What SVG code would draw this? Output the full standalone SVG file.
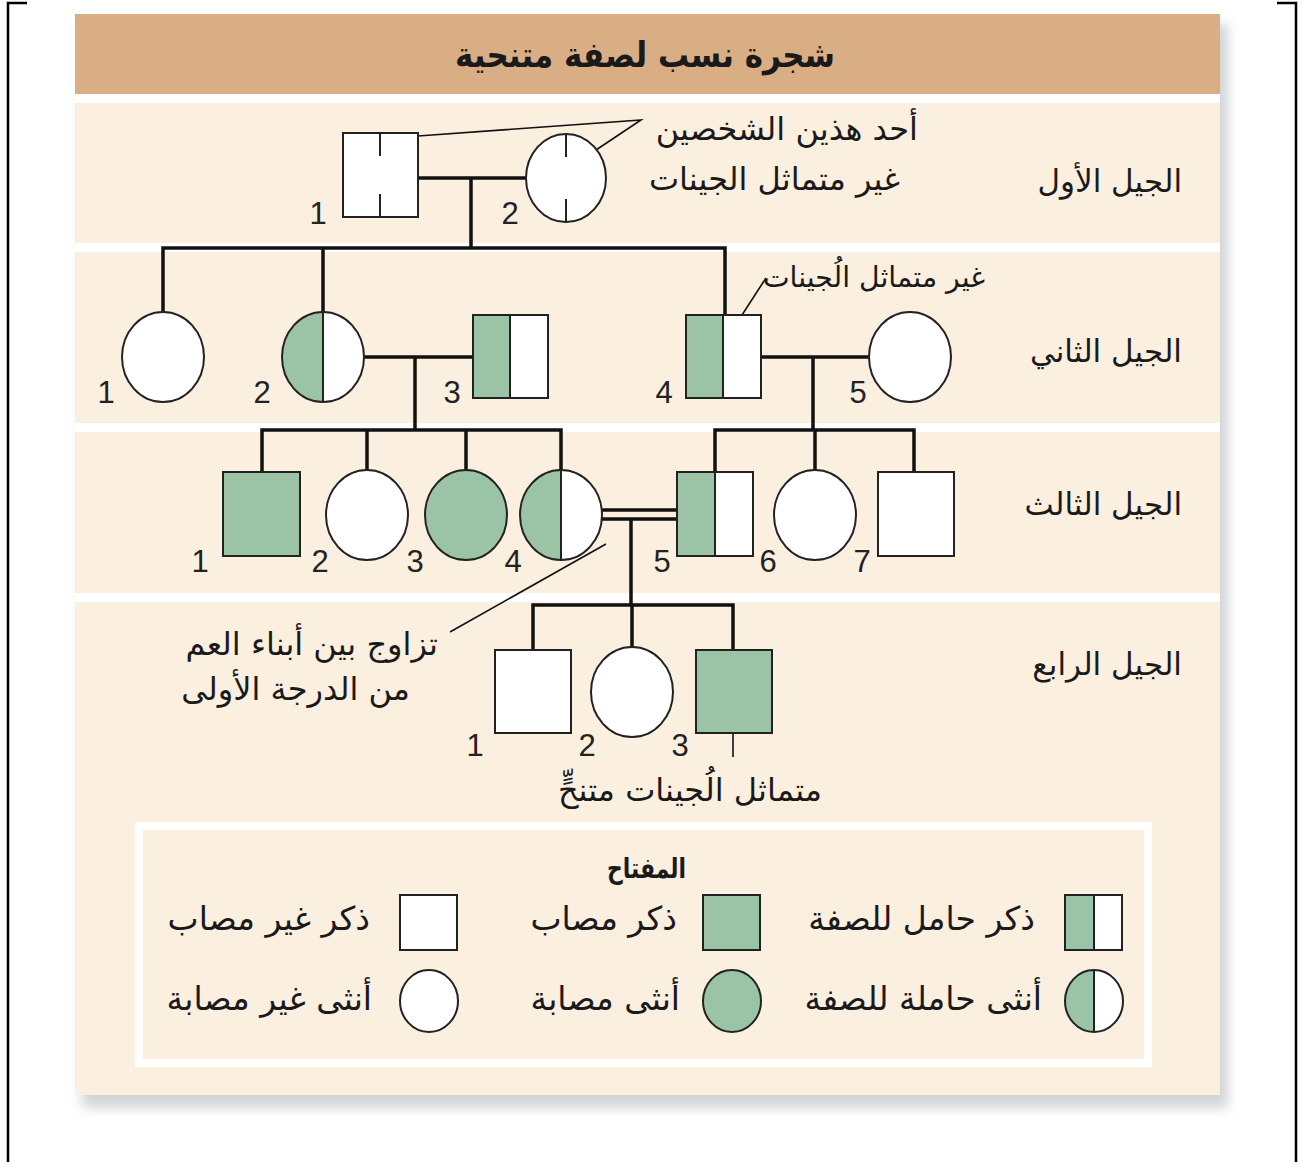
<svg xmlns="http://www.w3.org/2000/svg" width="1304" height="1162" viewBox="0 0 1304 1162">
<style>
.sh{stroke:#222;stroke-width:2}
.w{fill:#fff}
.g{fill:#9bc3a5}
.ln{stroke:#111;stroke-width:3.5;fill:none}
.thin{stroke:#111;stroke-width:1.6;fill:none}
.num{font-family:"Liberation Sans",Arial,sans-serif;font-size:31px;fill:#222}
.ar{font-family:"DejaVu Sans",sans-serif;font-size:32px;fill:#1a1a1a}
.key{font-size:33px}
.gen{font-family:"DejaVu Sans",sans-serif;font-size:31px;fill:#1a1a1a}
.bold{font-weight:bold}
</style>
<defs>
<filter id="blur" x="-5%" y="-5%" width="110%" height="110%"><feGaussianBlur stdDeviation="6"/></filter>
</defs>
<rect width="1304" height="1162" fill="#fff"/>
<g id="page-border" stroke="#000" stroke-width="2.5" fill="none">
<path d="M8,1162 V3 H27"/>
<path d="M1277,3 H1296 V1162"/>
</g>
<rect x="82" y="24" width="1146" height="1084" fill="#9aa0a8" opacity="0.45" filter="url(#blur)"/>
<g id="panel">
<rect x="75" y="14" width="1145" height="1081" fill="#fff"/>
<rect x="75" y="14" width="1145" height="80" fill="#d9ae85"/>
<rect x="75" y="103" width="1145" height="140" fill="#fbefdf"/>
<rect x="75" y="252" width="1145" height="171" fill="#fbefdf"/>
<rect x="75" y="432" width="1145" height="161" fill="#fbefdf"/>
<rect x="75" y="602" width="1145" height="493" fill="#fbefdf"/>
<text x="455" y="67" class="ar bold" style="font-size:35px" textLength="380" lengthAdjust="spacingAndGlyphs">شجرة نسب لصفة متنحية</text>
</g>
<g id="generation-labels">
<text x="1182" y="192" text-anchor="end" class="gen">الجيل الأول</text>
<text x="1182" y="362" text-anchor="end" class="gen">الجيل الثاني</text>
<text x="1182" y="515" text-anchor="end" class="gen">الجيل الثالث</text>
<text x="1182" y="675" text-anchor="end" class="gen">الجيل الرابع</text>
</g>
<g id="connectors">
<path class="ln" d="M418,178 H526"/>
<path class="ln" d="M471,178 V248"/>
<path class="ln" d="M163,312 V248 H725 V315"/>
<path class="ln" d="M323,248 V312"/>
<path class="ln" d="M364,357 H473"/>
<path class="ln" d="M415,357 V430"/>
<path class="ln" d="M761,357 H869"/>
<path class="ln" d="M813,357 V430"/>
<path class="ln" d="M262,472 V430 H561 V470"/>
<path class="ln" d="M367,430 V470"/>
<path class="ln" d="M466,430 V470"/>
<path class="ln" d="M715,472 V430 H914 V472"/>
<path class="ln" d="M815,430 V470"/>
<path class="ln" d="M602,510 H677"/>
<path class="ln" d="M602,519 H677"/>
<path class="ln" d="M631,519 V605"/>
<path class="ln" d="M533,650 V605 H733 V650"/>
<path class="ln" d="M632,605 V647"/>
<path class="thin" d="M418,136 L641,120 L596,150"/>
<path class="thin" d="M742,315 L766,278"/>
<path class="thin" d="M606,544 L450,632"/>
<path class="thin" d="M733,705 V757"/>
</g>
<g id="I-1">
<rect x="343" y="133" width="75" height="84" class="w sh"/>
<path d="M380,133 V156 M380,194 V217" class="sh"/>
<text x="318" y="224" text-anchor="middle" class="num">1</text>
</g>
<g id="I-2">
<ellipse cx="566" cy="178" rx="40" ry="44" class="w sh"/>
<path d="M566,134 V157 M566,199 V222" class="sh"/>
<text x="510" y="224" text-anchor="middle" class="num">2</text>
</g>
<g id="I-note">
<text x="918" y="140" text-anchor="end" class="ar">أحد هذين الشخصين</text>
<text x="900" y="190" text-anchor="end" class="ar">غير متماثل الجينات</text>
</g>
<g id="II-1">
<ellipse cx="163" cy="357" rx="41" ry="45" class="w sh"/>
<text x="106" y="403" text-anchor="middle" class="num">1</text>
</g>
<g id="II-2">
<ellipse cx="323" cy="357" rx="41" ry="45" class="w"/>
<path d="M323,312 A41,45 0 0 0 323,402 Z" class="g"/>
<ellipse cx="323" cy="357" rx="41" ry="45" fill="none" class="sh"/>
<path d="M323,312 V402" class="sh"/>
<text x="262" y="403" text-anchor="middle" class="num">2</text>
</g>
<g id="II-3">
<rect x="473" y="315" width="75" height="83" class="w"/>
<rect x="473" y="315" width="37" height="83" class="g"/>
<rect x="473" y="315" width="75" height="83" fill="none" class="sh"/>
<path d="M510,315 V398" class="sh"/>
<text x="452" y="403" text-anchor="middle" class="num">3</text>
</g>
<g id="II-4">
<rect x="686" y="315" width="75" height="83" class="w"/>
<rect x="686" y="315" width="37" height="83" class="g"/>
<rect x="686" y="315" width="75" height="83" fill="none" class="sh"/>
<path d="M723,315 V398" class="sh"/>
<text x="664" y="403" text-anchor="middle" class="num">4</text>
<text x="985" y="287" text-anchor="end" class="ar" style="font-size:28.3px">غير متماثل الُجينات</text>
</g>
<g id="II-5">
<ellipse cx="910" cy="357" rx="41" ry="45" class="w sh"/>
<text x="858" y="403" text-anchor="middle" class="num">5</text>
</g>
<g id="III-1">
<rect x="223" y="472" width="77" height="84" class="g sh"/>
<text x="200" y="572" text-anchor="middle" class="num">1</text>
</g>
<g id="III-2">
<ellipse cx="367" cy="515" rx="41" ry="45" class="w sh"/>
<text x="320" y="572" text-anchor="middle" class="num">2</text>
</g>
<g id="III-3">
<ellipse cx="466" cy="515" rx="41" ry="45" class="g sh"/>
<text x="415" y="572" text-anchor="middle" class="num">3</text>
</g>
<g id="III-4">
<ellipse cx="561" cy="515" rx="41" ry="45" class="w"/>
<path d="M561,470 A41,45 0 0 0 561,560 Z" class="g"/>
<ellipse cx="561" cy="515" rx="41" ry="45" fill="none" class="sh"/>
<path d="M561,470 V560" class="sh"/>
<text x="513" y="572" text-anchor="middle" class="num">4</text>
</g>
<g id="III-5">
<rect x="677" y="472" width="76" height="84" class="w"/>
<rect x="677" y="472" width="38" height="84" class="g"/>
<rect x="677" y="472" width="76" height="84" fill="none" class="sh"/>
<path d="M715,472 V556" class="sh"/>
<text x="662" y="572" text-anchor="middle" class="num">5</text>
</g>
<g id="III-6">
<ellipse cx="815" cy="515" rx="41" ry="45" class="w sh"/>
<text x="768" y="572" text-anchor="middle" class="num">6</text>
</g>
<g id="III-7">
<rect x="878" y="472" width="76" height="84" class="w sh"/>
<text x="862" y="572" text-anchor="middle" class="num">7</text>
</g>
<g id="consanguinity-note">
<text x="438" y="655" text-anchor="end" class="ar">تزاوج بين أبناء العم</text>
<text x="410" y="700" text-anchor="end" class="ar">من الدرجة الأولى</text>
</g>
<g id="IV-1">
<rect x="495" y="650" width="76" height="83" class="w sh"/>
<text x="475" y="756" text-anchor="middle" class="num">1</text>
</g>
<g id="IV-2">
<ellipse cx="632" cy="692" rx="41" ry="45" class="w sh"/>
<text x="587" y="756" text-anchor="middle" class="num">2</text>
</g>
<g id="IV-3">
<rect x="696" y="650" width="76" height="83" class="g sh"/>
<text x="680" y="756" text-anchor="middle" class="num">3</text>
<text x="822" y="801" text-anchor="end" class="ar">متماثل الُجينات متنحٍّ</text>
</g>
<g id="key">
<rect x="139" y="826" width="1009" height="237" fill="none" stroke="#fff" stroke-width="8"/>
<text x="607" y="878" class="ar bold" style="font-size:28px" textLength="79" lengthAdjust="spacingAndGlyphs">المفتاح</text>
<rect x="1065" y="895" width="57" height="55" class="w"/>
<rect x="1065" y="895" width="29" height="55" class="g"/>
<rect x="1065" y="895" width="57" height="55" fill="none" class="sh"/>
<path d="M1094,895 V950" class="sh"/>
<text x="1035" y="930" text-anchor="end" class="ar key">ذكر حامل للصفة</text>
<rect x="703" y="895" width="57" height="55" class="g sh"/>
<text x="677" y="930" text-anchor="end" class="ar key">ذكر مصاب</text>
<rect x="400" y="895" width="57" height="55" class="w sh"/>
<text x="370" y="930" text-anchor="end" class="ar key">ذكر غير مصاب</text>
<ellipse cx="1094" cy="1001" rx="29" ry="31" class="w"/>
<path d="M1094,970 A29,31 0 0 0 1094,1032 Z" class="g"/>
<ellipse cx="1094" cy="1001" rx="29" ry="31" fill="none" class="sh"/>
<path d="M1094,970 V1032" class="sh"/>
<text x="1042" y="1010" text-anchor="end" class="ar key">أنثى حاملة للصفة</text>
<ellipse cx="732" cy="1001" rx="29" ry="31" class="g sh"/>
<text x="680" y="1010" text-anchor="end" class="ar key">أنثى مصابة</text>
<ellipse cx="429" cy="1001" rx="29" ry="31" class="w sh"/>
<text x="372" y="1010" text-anchor="end" class="ar key">أنثى غير مصابة</text>
</g>
</svg>
